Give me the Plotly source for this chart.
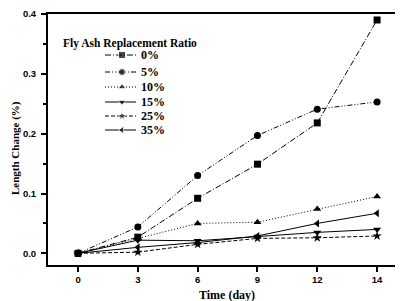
import plotly.graph_objects as go

days = ["0", "3", "6", "9", "12", "14"]
series_names = ["0%", "5%", "10%", "15%", "25%", "35%"]
v0 = [0.0, 0.027, 0.092, 0.149, 0.218, 0.390]
v5 = [0.0, 0.044, 0.130, 0.197, 0.241, 0.253]
v10 = [0.0, 0.025, 0.050, 0.052, 0.074, 0.095]
v15 = [0.0, 0.022, 0.021, 0.028, 0.035, 0.040]
v25 = [0.0, 0.002, 0.015, 0.025, 0.026, 0.029]
v35 = [0.0, 0.010, 0.018, 0.029, 0.050, 0.067]

values = [v0, v5, v10, v15, v25, v35]
symbols = ["square", "circle", "triangle-up", "triangle-down", "star", "triangle-left"]
dashes = ["6px,2px,1px,2px", "5px,2px,1px,2px,1px,2px", "1px,2px", "solid", "4px,2px", "solid"]

# the page body has an 8px default margin; figure is sized to fit the window
OFF = 8
W, H = 403 - OFF, 301 - OFF
ML, MR, MT = 48 - OFF, 2, 14 - OFF
MB = H - (265 - OFF)
PW, PH = W - ML - MR, H - MT - MB


def px_x(p):
    return (p - OFF - ML) / PW


def px_y(p):
    return (H - MB - (p - OFF)) / PH


serif = "Liberation Serif"
fig = go.Figure()
for name, vals, sym, dash in zip(series_names, values, symbols, dashes):
    fig.add_trace(go.Scatter(
        x=list(range(len(days))), y=vals, name=name, mode="lines+markers",
        line=dict(color="black", width=1, dash=dash),
        marker=dict(symbol=sym, size=7, color="black"),
        showlegend=False,
    ))

# compact legend drawn on an overlay axis spanning the plot area
legend_rows = [55, 72, 87, 102, 116, 130]
annotations = [dict(text="<b>Fly Ash Replacement Ratio</b>", xref="paper", yref="paper",
                    x=px_x(61), y=px_y(43), xanchor="left", yanchor="middle", showarrow=False,
                    font=dict(family=serif, size=11.5, color="black"))]
for name, sym, dash, ry in zip(series_names, symbols, dashes, legend_rows):
    fig.add_trace(go.Scatter(
        x=[px_x(105), px_x(122), px_x(136)], y=[px_y(ry)] * 3,
        xaxis="x2", yaxis="y2", mode="lines+markers", showlegend=False, hoverinfo="skip",
        line=dict(color="black", width=1, dash=dash),
        marker=dict(symbol=sym, size=[0, 7, 0], color="black"),
    ))
    annotations.append(dict(text="<b>" + name + "</b>", xref="paper", yref="paper", x=px_x(139), y=px_y(ry),
                            xanchor="left", yanchor="middle", showarrow=False,
                            font=dict(family=serif, size=12, color="black")))

annotations.append(dict(text="<b>Time (day)</b>", xref="paper", yref="paper",
                        x=px_x(227), y=px_y(295), xanchor="center", yanchor="middle", showarrow=False,
                        font=dict(family=serif, size=12, color="black")))
annotations.append(dict(text="<b>Length Change (%)</b>", xref="paper", yref="paper",
                        x=px_x(15), y=px_y(148), xanchor="center", yanchor="middle", showarrow=False,
                        textangle=-90, font=dict(family=serif, size=11, color="black")))

fig.update_layout(
    width=W, height=H,
    margin=dict(l=ML, r=MR, t=MT, b=MB),
    paper_bgcolor="white", plot_bgcolor="white",
    showlegend=False,
    annotations=annotations,
    xaxis2=dict(overlaying="x", range=[0, 1], visible=False, fixedrange=True),
    yaxis2=dict(overlaying="y", range=[0, 1], visible=False, fixedrange=True),
    xaxis=dict(
        range=[-0.502, 5.40], tickmode="array", tickvals=list(range(len(days))), ticktext=days,
        showline=True, linecolor="black", linewidth=2, mirror=True, showgrid=False, zeroline=False,
        ticks="outside", ticklen=5, tickwidth=1.5, tickcolor="black", automargin=False,
        tickfont=dict(family="Liberation Sans", size=9.5, color="black", weight="bold"),
    ),
    yaxis=dict(
        range=[-0.0195, 0.4], tickmode="array", tickvals=[0.0, 0.1, 0.2, 0.3, 0.4],
        ticktext=["0.0", "0.1", "0.2", "0.3", "0.4"],
        showline=True, linecolor="black", linewidth=2, showgrid=False, zeroline=False,
        ticks="outside", ticklen=5, tickwidth=1.5, tickcolor="black", automargin=False,
        ticklabelstandoff=3,
        minor=dict(ticks="outside", ticklen=3, tickcolor="black", dtick=0.05, tick0=0),
        tickfont=dict(family="Liberation Sans", size=9.5, color="black", weight="bold"),
    ),
)
fig.write_html("out.html")
